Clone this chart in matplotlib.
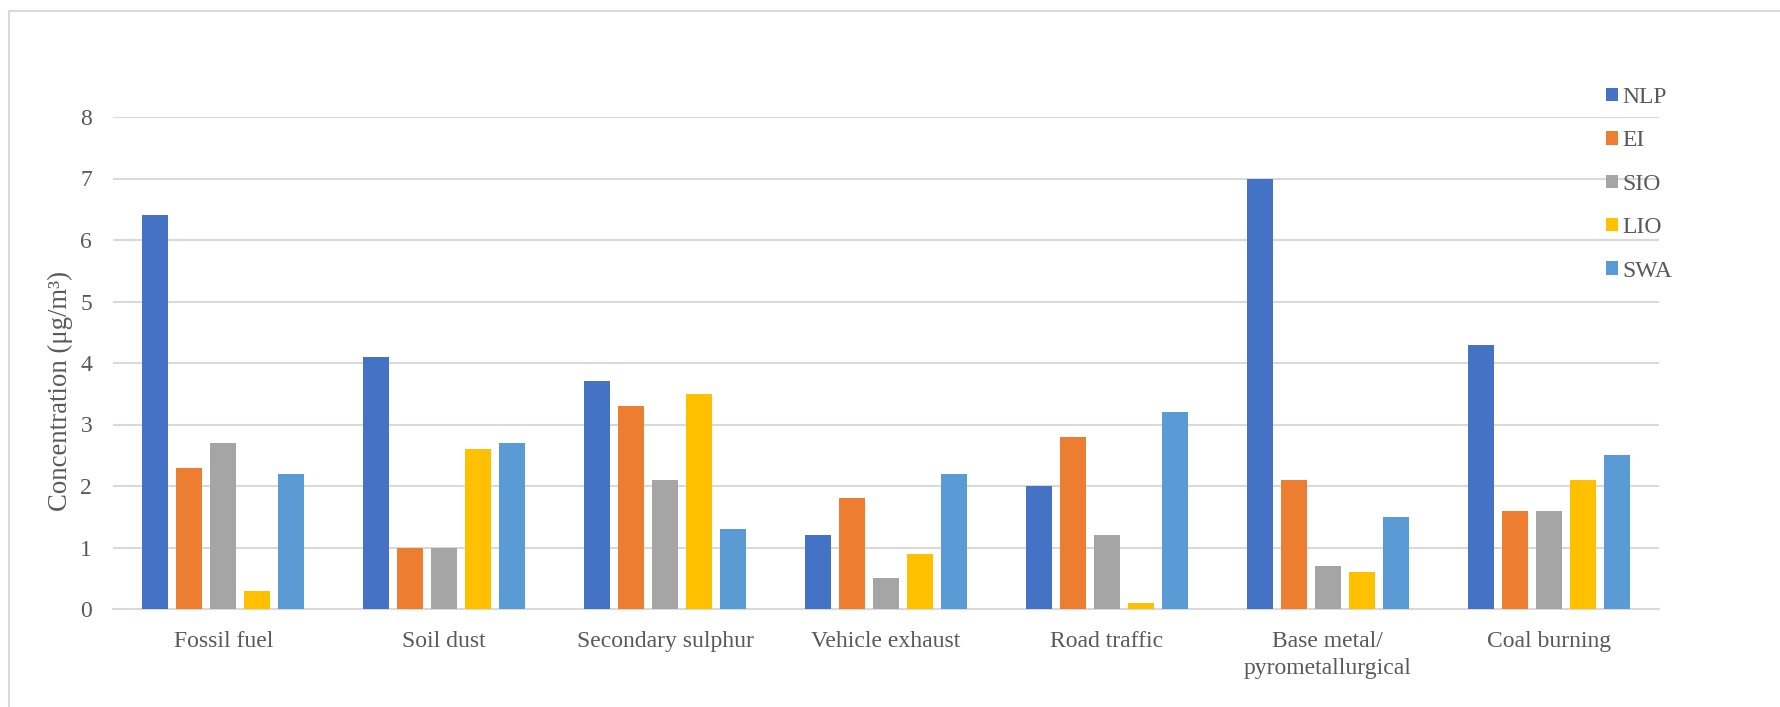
import numpy as np
import matplotlib.pyplot as plt
from matplotlib.patches import Rectangle

plt.rcParams['font.family'] = ['Liberation Serif', 'DejaVu Serif']

sources = ['Fossil fuel', 'Soil dust', 'Secondary sulphur', 'Vehicle exhaust',
           'Road traffic', 'Base metal/\npyrometallurgical', 'Coal burning']
sites = ['NLP', 'EI', 'SIO', 'LIO', 'SWA']

nlp = [6.4, 4.1, 3.7, 1.2, 2.0, 7.0, 4.3]
ei = [2.3, 1.0, 3.3, 1.8, 2.8, 2.1, 1.6]
sio = [2.7, 1.0, 2.1, 0.5, 1.2, 0.7, 1.6]
lio = [0.3, 2.6, 3.5, 0.9, 0.1, 0.6, 2.1]
swa = [2.2, 2.7, 1.3, 2.2, 3.2, 1.5, 2.5]

colors = ['#4472C4', '#ED7D31', '#A5A5A5', '#FFC000', '#5B9BD5']
txt = '#595959'
grid = '#D9D9D9'

fig = plt.figure(figsize=(17.8, 7.07), dpi=100)
ax = fig.add_axes([113/1780, 98/707, 1546/1780, 492/707])

# light chart-area frame
fig.patches.append(Rectangle((9/1780, -0.05), 1.2, (707-11)/707 + 0.05,
                             transform=fig.transFigure, fill=False,
                             edgecolor=grid, lw=1.5))

x = np.arange(len(sources))
step = 0.154
width = 0.118
for i, (name, vals) in enumerate(zip(sites, [nlp, ei, sio, lio, swa])):
    ax.bar(x + (i - 2) * step, vals, width, color=colors[i], label=name, zorder=3)

ax.set_xlim(-0.5, len(sources) - 0.5)
ax.set_ylim(0, 8)
ax.set_yticks(range(0, 9))
ax.yaxis.grid(True, color=grid, lw=1.5, zorder=0)
ax.set_axisbelow(True)
for s in ['top', 'right', 'left']:
    ax.spines[s].set_visible(False)
ax.spines['bottom'].set_color(grid)
ax.spines['bottom'].set_linewidth(1.5)
ax.tick_params(axis='both', length=0, labelsize=17, colors=txt)
ax.tick_params(axis='y', pad=15)
ax.tick_params(axis='x', pad=15.5)
ax.set_xticks(x)
ax.set_xticklabels(sources, linespacing=1.42)

ax.set_ylabel('Concentration (μg/m³)', fontsize=19.3, color=txt)
ax.yaxis.set_label_coords(-0.026, 0.443)

leg = ax.legend(loc='upper left', bbox_to_anchor=(1594/1780, (707-75)/707),
                bbox_transform=fig.transFigure, frameon=False, fontsize=17,
                handlelength=0.5, handleheight=0.5, handletextpad=0.2,
                labelspacing=0.95, borderpad=0)
for t in leg.get_texts():
    t.set_color(txt)

plt.savefig('out.png', dpi=100)
plt.close()
